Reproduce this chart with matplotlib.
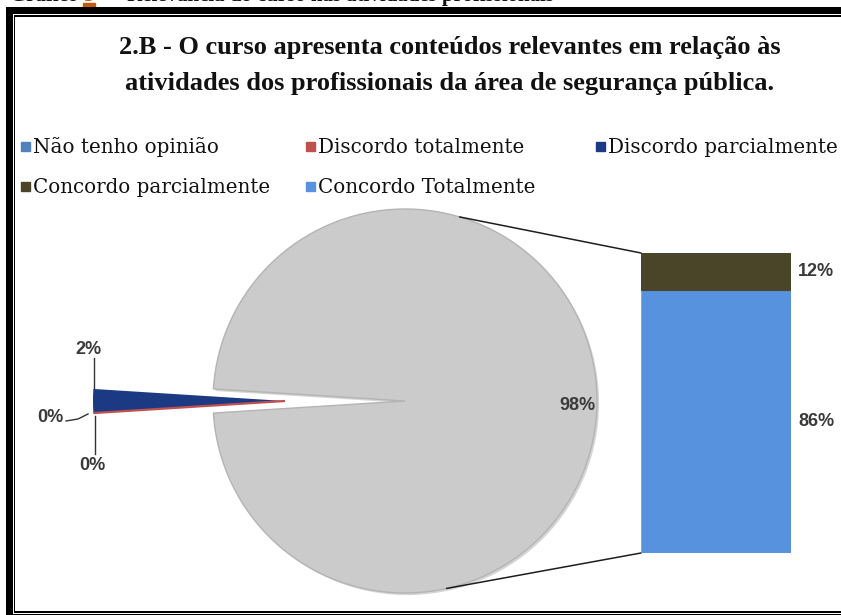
import numpy as np
import matplotlib
matplotlib.use("Agg")
import matplotlib.pyplot as plt
import matplotlib.patheffects as pe
from matplotlib.patches import Rectangle, ConnectionPatch

W, H = 841, 615

caption_parts = ["Gráfico", "5", "- Relevância do curso nas atividades profissionais"]
title = ("2.B - O curso apresenta conteúdos relevantes em relação às\n"
         "atividades dos profissionais da área de segurança pública.")

categories = ["Não tenho opinião", "Discordo totalmente", "Discordo parcialmente",
              "Concordo parcialmente", "Concordo Totalmente"]
cat_colors = ["#4f81bd", "#c0504d", "#1c3a84", "#4a4429", "#5692dd"]

# main pie: both "concordo" answers are grouped into the big slice
pie_names = ["Outros", "Discordo parcialmente", "Discordo totalmente", "Não tenho opinião"]
pie_values = [98, 2, 0, 0]
pie_colors = ["#cbcbcb", "#1c3a84", "#c0504d", "#4f81bd"]

# the stacked bar breaks the big slice down
bar_names = ["Concordo Totalmente", "Concordo parcialmente"]
bar_values = [86, 12]
bar_colors = ["#5692dd", "#4a4429"]

SERIF = ["Liberation Serif", "DejaVu Serif"]
LEGEND_FONT = ["DejaVu Serif"]
LABEL_FONT = ["Liberation Sans Narrow", "Liberation Sans", "DejaVu Sans"]


def py(y):
    # pixel row (from the top) -> data y (from the bottom)
    return H - y


fig = plt.figure(figsize=(W / 100, H / 100), dpi=100)
ax = fig.add_axes([0, 0, 1, 1])

# ---- pie of the small answers + grouped slice
center = (405, py(401))
radius = 192
offset = 0.625 * radius  # pie() takes explode in data units
start = -pie_values[0] / sum(pie_values) * 360 / 2
wedges, _ = ax.pie(pie_values, colors=pie_colors, startangle=start,
                   counterclock=True, center=center, radius=radius,
                   explode=[0, offset, offset, offset], normalize=True,
                   wedgeprops=dict(linewidth=0))
wedges[0].set_edgecolor("#b4b4b4")
wedges[0].set_linewidth(1.0)
wedges[0].set_path_effects([pe.SimplePatchShadow(offset=(1.5, -1.5), shadow_rgbFace="#888888",
                                                 alpha=0.35), pe.Normal()])
# zero-valued slices sit on the edge of the 2% slice
for w in wedges[2:]:
    w.set_center(wedges[1].center)
wedges[2].set_edgecolor(pie_colors[2])
wedges[2].set_linewidth(1.6)
wedges[3].set_linewidth(0)

label_kw = dict(fontsize=13, fontweight="bold", color="#3a3a3a", family=LABEL_FONT)
pie_label_xy = [(577, 405), (88, 349), (50, 418), (92, 466)]
for v, (lx, ly) in zip(pie_values, pie_label_xy):
    ax.text(lx, py(ly), f"{v}%", ha="center", va="center", **label_kw)

# leader lines for the small slices
ax.plot([94, 94], [py(358), py(388)], color="#333333", lw=1)
ax.plot([66, 78, 88], [py(421), py(419), py(414)], color="#333333", lw=1)
ax.plot([95, 95], [py(416), py(454)], color="#333333", lw=1)

# ---- stacked bar
bar_left, bar_bottom, bar_w, bar_h = 641, 553, 150, 300
bx = fig.add_axes([bar_left / W, py(bar_bottom) / H, bar_w / W, bar_h / H])
bottom = 0
for v, c in zip(bar_values, bar_colors):
    bx.bar(0, v, bottom=bottom, width=1, color=c,
           edgecolor="#8aa9d6" if c == bar_colors[0] else c, linewidth=0.8)
    bx.annotate(f"{v}%", xy=(0.5, bottom + v / 2), xytext=(5, 0),
                textcoords="offset points", ha="left", va="center", **label_kw)
    bottom += v
bx.set_xlim(-0.5, 0.5)
bx.set_ylim(0, sum(bar_values))
bx.axis("off")

# connector lines from the big slice to the bar
for ang, yb in [(73.5, sum(bar_values)), (-77.5, 0)]:
    a = np.radians(ang)
    p = (center[0] + radius * np.cos(a), center[1] + radius * np.sin(a))
    con = ConnectionPatch(xyA=(-0.5, yb), coordsA=bx.transData, xyB=p,
                          coordsB=ax.transData, color="#1e1e1e", lw=1.1)
    fig.add_artist(con)

# ---- title
for line, base in zip(title.split("\n"), [54, 90]):
    ax.text(450, py(base), line, ha="center", va="baseline", fontsize=19,
            fontweight="bold", family=SERIF, color="#111111")

# ---- legend
col_x = [22, 307, 597]
row_y = [146, 186]
for i, (name, c) in enumerate(zip(categories, cat_colors)):
    x, y = col_x[i % 3], row_y[i // 3]
    ax.add_patch(Rectangle((x - 1, py(y) - 4.5), 9, 9, color=c))
    ax.text(x + 11, py(y + 7), name, ha="left", va="baseline", fontsize=14.3,
            family=LEGEND_FONT, color="#111111")

# ---- page caption, mostly cut off at the top
cap_x = [10, 83, 115]
for part, x in zip(caption_parts, cap_x):
    ax.text(x, py(1), part, ha="left", va="baseline", fontsize=15, fontweight="bold",
            family=SERIF, color="#c55a11" if part == "5" else "#111111")
ax.add_patch(Rectangle((83, py(5.5)), 12, 3, color="#c55a11"))

# ---- double frame
frame = [(6, 7, W - 6, 7), (6, 7, 7, H - 7),
         (14, 15, W - 14, 1.5), (14, 15, 1.5, 596),
         (14, 610.5, W - 14, 2.5), (6, 613.5, W - 6, 1.5)]
for x, y, w, h in frame:
    ax.add_patch(Rectangle((x, py(y + h)), w, h, color="black", lw=0))

ax.set_xlim(0, W)
ax.set_ylim(0, H)
ax.set_aspect("auto")
ax.axis("off")

fig.savefig("out.png", dpi=100)
